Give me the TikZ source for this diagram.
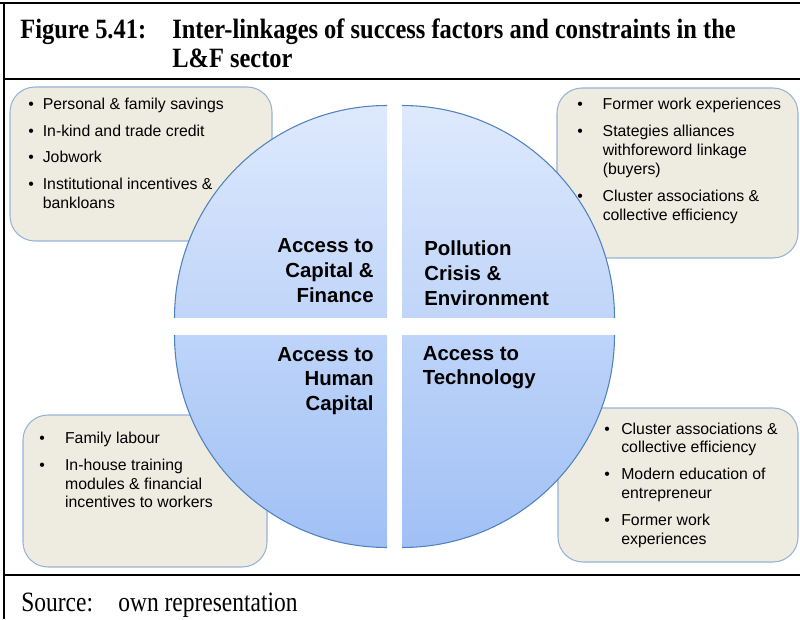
\documentclass[tikz,border=0pt]{standalone}
\usepackage{fontspec}
\setmainfont{Liberation Serif}
\setsansfont{Liberation Sans}
\usetikzlibrary{calc}

\definecolor{boxfill}{RGB}{238,236,225}
\definecolor{boxedge}{RGB}{149,179,215}
\definecolor{pieedge}{RGB}{79,129,189}
\definecolor{pietop}{RGB}{222,233,253}
\definecolor{piemidA}{RGB}{192,213,249}
\definecolor{piemidB}{RGB}{190,212,249}
\definecolor{piebottom}{RGB}{160,192,245}

\begin{document}
\begin{tikzpicture}[
  frameline/.style={line width=1.4pt, black},
  infobox/.style={fill=boxfill, draw=boxedge, line width=0.6pt, rounded corners=0.5cm},
  bullettext/.style={anchor=base west, inner sep=0pt, font=\sffamily\fontsize{9}{10.8}\selectfont},
  quadlabel/.style={inner sep=0pt, font=\sffamily\bfseries\fontsize{11.6}{14}\selectfont},
  titletext/.style={anchor=base west, inner sep=0pt, font=\bfseries\fontsize{15.9}{16.4}\selectfont},
  sourcetext/.style={anchor=base west, inner sep=0pt, font=\fontsize{15.9}{16.4}\selectfont}
]
\useasboundingbox (0,0) rectangle (16,12.38);

% Frame of the figure
\draw[frameline] (0,12.32) -- (16,12.32);
\draw[frameline] (0.08,12.32) -- (0.08,0);
\draw[frameline] (0.08,10.80) -- (16,10.80);
\draw[frameline] (0.08,0.88) -- (16,0.88);

% Title
\node[titletext] (figNo) at (0.40,11.60) {\scalebox{0.875}[1]{Figure 5.41:}};
\node[titletext] (figTitle) at (3.44,11.60) {\scalebox{0.875}[1]{\begin{tabular}[t]{@{}l@{}}Inter-linkages of success factors and constraints in the\\L\&F sector\end{tabular}}};

% Boxes behind the circle
\draw[infobox] (0.20,7.56) rectangle (5.44,10.64);
\draw[infobox] (11.14,7.22) rectangle (15.96,10.62);
\draw[infobox] (0.46,1.04) rectangle (5.34,4.08);
\draw[infobox] (11.16,1.14) rectangle (15.96,4.22);

% Top left: finance
\node[bullettext] (finList) at (0.56,10.19) {\begin{tabular}[t]{@{}l@{\hspace{5.1pt}}l@{}}
\textbullet & Personal \& family savings\\[4.3pt]
\textbullet & In-kind and trade credit\\[4.3pt]
\textbullet & Jobwork\\[4.3pt]
\textbullet & Institutional incentives \&\\
 & bankloans
\end{tabular}};

% Top right: pollution and environment
\node[bullettext] (envList) at (11.54,10.18) {\begin{tabular}[t]{@{}l@{\hspace{11.3pt}}l@{}}
\textbullet & Former work experiences\\[4.3pt]
\textbullet & Stategies alliances\\
 & withforeword linkage\\
 & (buyers)\\[4.3pt]
\textbullet & Cluster associations \&\\
 & collective efficiency
\end{tabular}};

% Bottom left: human capital
\node[bullettext] (humList) at (0.78,3.51) {\begin{tabular}[t]{@{}l@{\hspace{11.5pt}}l@{}}
\textbullet & Family labour\\[4.3pt]
\textbullet & In-house training\\
 & modules \& financial\\
 & incentives to workers
\end{tabular}};

% Bottom right: technology
\node[bullettext] (techList) at (12.08,3.70) {\begin{tabular}[t]{@{}l@{\hspace{6.5pt}}l@{}}
\textbullet & Cluster associations \&\\
 & collective efficiency\\[4.3pt]
\textbullet & Modern education of\\
 & entrepreneur\\[4.3pt]
\textbullet & Former work\\
 & experiences
\end{tabular}};

% Circle made of four quarters
\coordinate (qTL) at (7.74,6.02);
\coordinate (qTR) at (8.04,6.02);
\coordinate (qBL) at (7.74,5.68);
\coordinate (qBR) at (8.04,5.68);

\shade[top color=pietop, bottom color=piemidA] (qTL) -- ++(-4.25,0) arc[start angle=180, end angle=90, radius=4.25] -- cycle;
\shade[top color=pietop, bottom color=piemidA] (qTR) -- ++(0,4.25) arc[start angle=90, end angle=0, radius=4.25] -- cycle;
\shade[top color=piemidB, bottom color=piebottom] (qBL) -- ++(-4.25,0) arc[start angle=180, end angle=270, radius=4.25] -- cycle;
\shade[top color=piemidB, bottom color=piebottom] (qBR) -- ++(4.25,0) arc[start angle=0, end angle=-90, radius=4.25] -- cycle;

\draw[pieedge, line width=0.6pt] (qTL) ++(-4.25,0) arc[start angle=180, end angle=90, radius=4.25];
\draw[pieedge, line width=0.6pt] (qTR) ++(0,4.25) arc[start angle=90, end angle=0, radius=4.25];
\draw[pieedge, line width=0.6pt] (qBL) ++(-4.25,0) arc[start angle=180, end angle=270, radius=4.25];
\draw[pieedge, line width=0.6pt] (qBR) ++(4.25,0) arc[start angle=0, end angle=-90, radius=4.25];

% Quarter labels
\node[quadlabel, anchor=base east] (finLabel) at (7.48,7.32) {\begin{tabular}[t]{@{}r@{}}Access to\\Capital \&\\Finance\end{tabular}};
\node[quadlabel, anchor=base west] (envLabel) at (8.48,7.26) {\begin{tabular}[t]{@{}l@{}}Pollution\\Crisis \&\\Environment\end{tabular}};
\node[quadlabel, anchor=base east] (humLabel) at (7.48,5.16) {\begin{tabular}[t]{@{}r@{}}Access to\\Human\\Capital\end{tabular}};
\node[quadlabel, anchor=base west] (techLabel) at (8.45,5.18) {\begin{tabular}[t]{@{}l@{}}Access to\\Technology\end{tabular}};

% Source
\node[sourcetext] (srcLabel) at (0.42,0.16) {\scalebox{0.84}[1]{Source:}};
\node[sourcetext] (srcText) at (2.36,0.16) {\scalebox{0.84}[1]{own representation}};

\end{tikzpicture}
\end{document}
